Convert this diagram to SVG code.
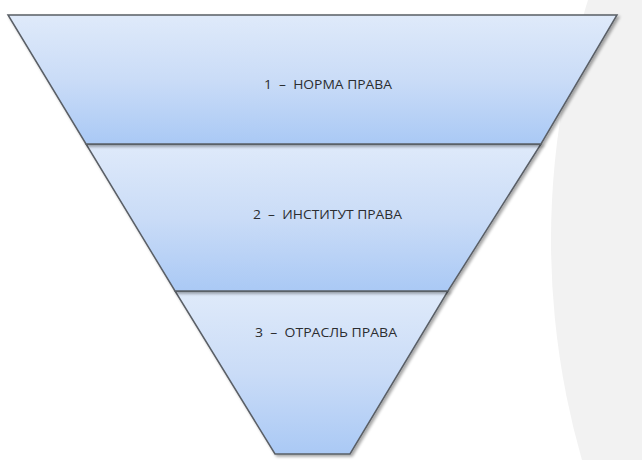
<svg xmlns="http://www.w3.org/2000/svg" width="642" height="460" viewBox="0 0 642 460">
  <defs>
    <linearGradient id="band" x1="0" y1="0" x2="0" y2="1">
      <stop offset="0" stop-color="#dfeafa"/>
      <stop offset="0.5" stop-color="#cadcf7"/>
      <stop offset="1" stop-color="#aac9f5"/>
    </linearGradient>
    <filter id="shadow" x="-10%" y="-10%" width="120%" height="130%">
      <feGaussianBlur in="SourceAlpha" stdDeviation="1.5"/>
      <feOffset dx="1.5" dy="2" result="b"/>
      <feComponentTransfer><feFuncA type="linear" slope="0.35"/></feComponentTransfer>
      <feMerge><feMergeNode/><feMergeNode in="SourceGraphic"/></feMerge>
    </filter>
  </defs>
  <style>
    .band { fill: url(#band); stroke: #5a5f66; stroke-width: 1.5; stroke-linejoin: miter; filter: url(#shadow); }
    .label { font-family: "Open Sans", "Noto Sans", sans-serif; font-size: 12.5px; fill: #2b2d30; white-space: pre; }
  </style>
  <rect x="0" y="0" width="642" height="460" fill="#ffffff"/>
  <circle cx="1348" cy="240" r="797" fill="#f2f2f2"/>

  <g id="node-3">
    <polygon class="band" points="175,291 448,291 350,454 275,454"/>
    <text class="label" x="255" y="337" textLength="142" lengthAdjust="spacingAndGlyphs" xml:space="preserve">3  –  ОТРАСЛЬ ПРАВА</text>
  </g>
  <g id="node-2">
    <polygon class="band" points="86,144 541,144 448,291 175,291"/>
    <text class="label" x="253" y="219" textLength="149" lengthAdjust="spacingAndGlyphs" xml:space="preserve">2  –  ИНСТИТУТ ПРАВА</text>
  </g>
  <g id="node-1">
    <polygon class="band" points="8,15 617,15 541,144 86,144"/>
    <text class="label" x="264" y="89" textLength="128" lengthAdjust="spacingAndGlyphs" xml:space="preserve">1  –  НОРМА ПРАВА</text>
  </g>
  <g id="connectors"></g>
</svg>
